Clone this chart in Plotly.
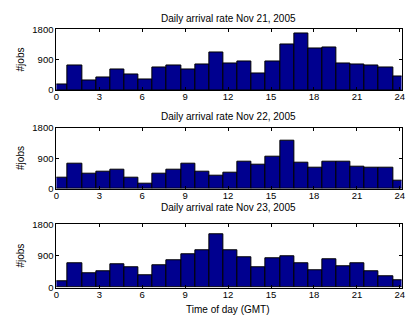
import numpy as np
import plotly.graph_objects as go

# ---- data ----
titles = ["Daily arrival rate Nov 21, 2005",
          "Daily arrival rate Nov 22, 2005",
          "Daily arrival rate Nov 23, 2005"]

nov21 = [160, 720, 294, 360, 597, 464, 303, 672, 729, 597, 758, 1108, 777,
         852, 502, 862, 1354, 1676, 1240, 1278, 795, 767, 720, 672, 398]
nov22 = [331, 748, 455, 492, 549, 331, 152, 455, 578, 748, 511, 398, 483,
         805, 701, 956, 1430, 758, 616, 795, 795, 663, 616, 634, 246]
nov23 = [189, 682, 417, 473, 672, 587, 360, 644, 786, 956, 1070, 1506, 1070,
         871, 568, 833, 880, 701, 483, 814, 616, 691, 473, 331, 218]
series = [nov21, nov22, nov23]

# histogram bins (hours): 25 bins
bin_start = -0.19
bin_width = 0.988
n_bins = 25
bin_centers = [bin_start + bin_width * (i + 0.5) for i in range(n_bins)]

x_ticks = [0, 3, 6, 9, 12, 15, 18, 21, 24]
y_ticks = [0, 900, 1800]

# ---- layout geometry (pixels) ----
W, H = 410, 322
left_px, right_px = 54.3, 405.5
px_per_hr = 14.56
x_max = (right_px - left_px) / px_per_hr
panels_px = [(24.3, 87.0), (126.0, 189.3), (226.0, 291.5)]
title_y_px = [12.5, 114.0, 208.5]

fig = go.Figure()
font = dict(family="Liberation Sans, Arial, sans-serif", size=10, color="black")
tfont = dict(family="Liberation Sans, Arial, sans-serif", size=9.5, color="black")

for i, vals in enumerate(series):
    xa = "x" if i == 0 else f"x{i+1}"
    ya = "y" if i == 0 else f"y{i+1}"
    fig.add_trace(go.Bar(
        x=bin_centers, y=vals, width=bin_width,
        marker=dict(color="#00008F", line=dict(color="black", width=1)),
        xaxis=xa, yaxis=ya, showlegend=False, hoverinfo="skip"))
    top, bot = panels_px[i]
    axis_common = dict(showline=True, linecolor="black", linewidth=1,
                       mirror="ticks", ticks="inside", ticklen=3,
                       tickcolor="black", showgrid=False, zeroline=False,
                       tickfont=tfont)
    fig.layout[f"xaxis{'' if i == 0 else i+1}"] = dict(
        domain=[left_px / W, right_px / W], range=[0, x_max],
        tickvals=x_ticks, ticktext=[str(t) for t in x_ticks],
        anchor=ya, ticklabelstandoff=-2, **axis_common)
    fig.layout[f"yaxis{'' if i == 0 else i+1}"] = dict(
        domain=[1 - bot / H, 1 - top / H], range=[0, 1800],
        tickvals=y_ticks, ticktext=[str(t) for t in y_ticks],
        anchor=xa, **axis_common)
    fig.add_annotation(text=titles[i], x=229 / W, y=1 - title_y_px[i] / H,
                       xref="paper", yref="paper", showarrow=False,
                       xanchor="center", yanchor="middle", font=font)
    fig.add_annotation(text="#jobs", x=18 / W, y=1 - (top + bot) / 2 / H,
                       xref="paper", yref="paper", showarrow=False,
                       textangle=-90, xanchor="center", yanchor="middle",
                       font=font)

fig.add_annotation(text="Time of day (GMT)", x=229 / W, y=1 - 314 / H,
                   xref="paper", yref="paper", showarrow=False,
                   xanchor="center", yanchor="middle", font=font)

fig.update_layout(width=W, height=H, margin=dict(l=0, r=0, t=0, b=0),
                  paper_bgcolor="white", plot_bgcolor="white", bargap=0)

fig.write_html("out.html")
